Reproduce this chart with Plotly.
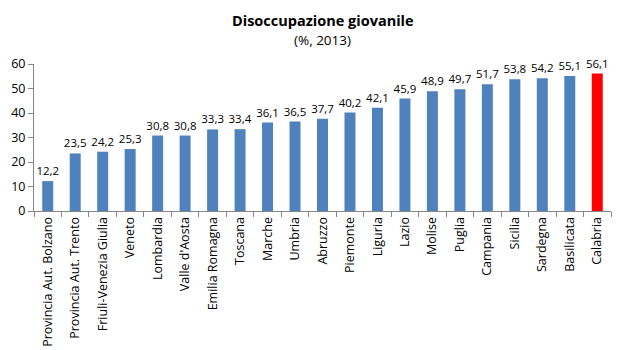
import plotly.graph_objects as go

regioni = ["Provincia Aut. Bolzano", "Provincia Aut. Trento", "Friuli-Venezia Giulia", "Veneto",
           "Lombardia", "Valle d'Aosta", "Emilia Romagna", "Toscana", "Marche", "Umbria",
           "Abruzzo", "Piemonte", "Liguria", "Lazio", "Molise", "Puglia", "Campania",
           "Sicilia", "Sardegna", "Basilicata", "Calabria"]
valori = [12.2, 23.5, 24.2, 25.3, 30.8, 30.8, 33.3, 33.4, 36.1, 36.5, 37.7, 40.2, 42.1,
          45.9, 48.9, 49.7, 51.7, 53.8, 54.2, 55.1, 56.1]
y_ticks = [0, 10, 20, 30, 40, 50, 60]

colori = ["#4F81BD"] * (len(regioni) - 1) + ["#FF0000"]
testi = [f"{v:.1f}".replace(".", ",") for v in valori]

fig = go.Figure(go.Bar(
    x=regioni, y=valori, marker_color=colori, marker_line_width=0,
    text=testi, textposition="outside", cliponaxis=False, constraintext="none",
    textfont=dict(size=11.5, color="#000000"),
))

fig.update_layout(
    width=626, height=350,
    margin=dict(l=34, r=15, t=64, b=139),
    paper_bgcolor="white", plot_bgcolor="white",
    font=dict(family="Open Sans, sans-serif", color="#000000"),
    bargap=0.6, showlegend=False,
    annotations=[
        dict(text="<b>Disoccupazione giovanile</b>", x=0.5, xref="paper", y=1.299, yref="paper",
             xanchor="center", yanchor="middle", showarrow=False,
             font=dict(size=14.5, color="#000000")),
        dict(text="(%, 2013)", x=0.5, xref="paper", y=1.163, yref="paper",
             xanchor="center", yanchor="middle", showarrow=False,
             font=dict(size=13.5, color="#000000")),
    ],
)
fig.update_xaxes(
    tickangle=-90, tickfont=dict(size=12.5), showgrid=False, automargin=False,
    showline=True, linecolor="#868686", linewidth=1,
    ticks="outside", tickson="boundaries", ticklen=5, tickcolor="#868686",
)
fig.update_yaxes(
    range=[0, 60], tickvals=y_ticks, tickfont=dict(size=12.5), showgrid=False,
    automargin=False,
    showline=True, linecolor="#868686", linewidth=1,
    ticks="outside", ticklen=5, tickcolor="#868686", zeroline=False,
)

fig.write_html("out.html")
